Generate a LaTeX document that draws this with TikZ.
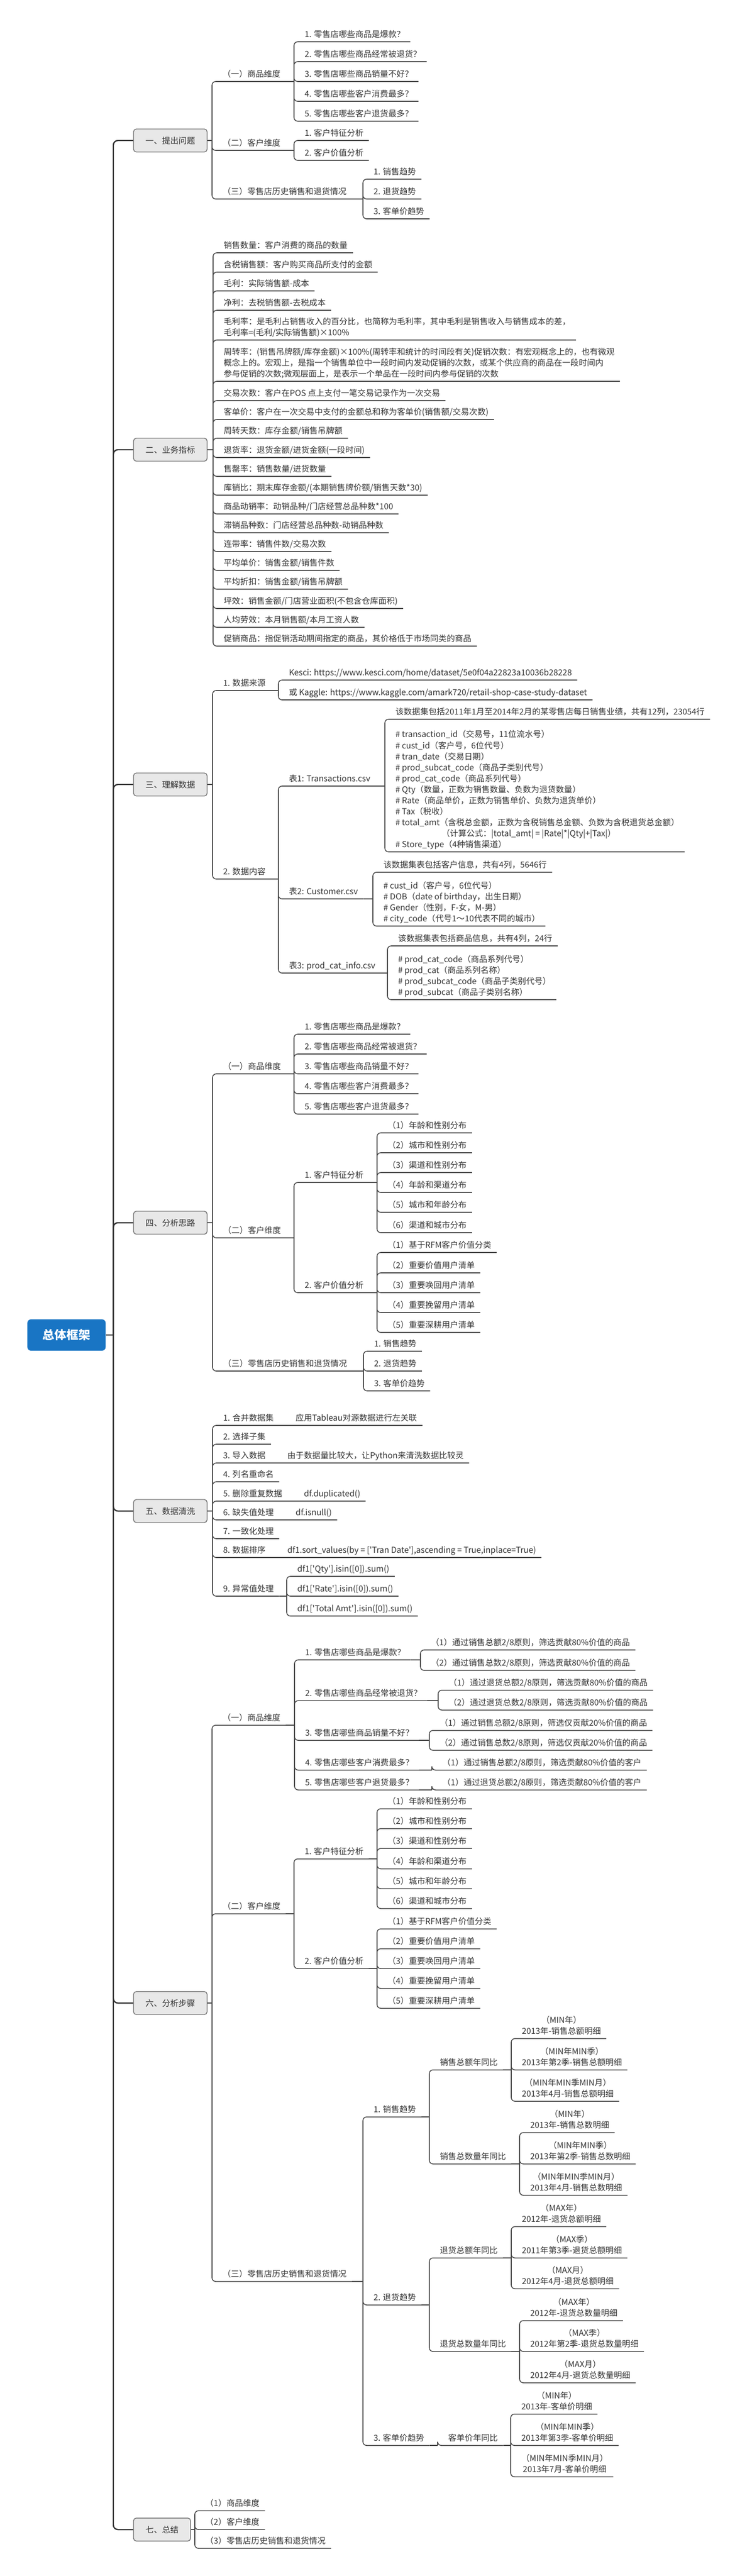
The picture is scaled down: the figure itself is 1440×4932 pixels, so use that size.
\documentclass[tikz,border=0pt]{standalone}
\usepackage{fontspec}
\newfontfamily\cjk{Noto Sans CJK SC}
\definecolor{rootblue}{RGB}{25,117,196}
\definecolor{txt}{RGB}{51,51,51}
\definecolor{lnk}{RGB}{70,70,70}
% leaf: text sitting on its own underline, x is the bracket it hangs from
\newcommand\leaf[5][]{\node[leaf,#1] (#2) at ({#3+10},#4) {#5};}
% kids: bracket from a parent to its children
\newcommand\kids[4][south east]{%
  \coordinate (bx) at (#3,0);
  \draw[link] (#2.#1) -- (#2.#1 -| bx);
  \foreach \k in {#4}{\draw[link,rounded corners=4pt] (#2.#1 -| bx) |- (\k.south east);}}
\begin{document}
\begin{tikzpicture}[x=0.02cm,y=-0.02cm,
    leaf/.style={anchor=south west,inner xsep=0.2cm,inner ysep=3pt,text depth=1.5pt,
      align=left,text=txt,font=\cjk\fontsize{9}{12}\selectfont},
    two/.style={align=center},
    sect/.style={anchor=west,draw=black!55,fill=black!9,rounded corners=3pt,line width=0.8pt,
      minimum height=0.88cm,inner xsep=0.46cm,text=txt,font=\cjk\fontsize{9}{12}\selectfont},
    root/.style={anchor=west,fill=rootblue,rounded corners=4pt,minimum width=3cm,
      minimum height=1.2cm,text=white,font=\cjk\bfseries\fontsize{13}{15}\selectfont},
    link/.style={draw=lnk,line width=0.9pt},
    trunk/.style={draw=black!80,line width=1.4pt,rounded corners=5pt}]
\useasboundingbox (0,0) rectangle (1440,4932);
\node[root] (root) at (52,2556) {总体框架};
\node[sect] (s1) at (255,269) {一、提出问题};
\node[sect] (s2) at (255,861) {二、业务指标};
\node[sect] (s3) at (255,1502) {三、理解数据};
\node[sect] (s4) at (255,2341) {四、分析思路};
\node[sect] (s5) at (255,2893) {五、数据清洗};
\node[sect] (s6) at (255,3835) {六、分析步骤};
\node[sect] (s7) at (255,4843) {七、总结};
\coordinate (tk) at (217,2556);
\draw[trunk] (root.east) -- (tk);
\foreach \s in {s1,s2,s3,s4,s5,s6,s7}
  \draw[trunk] (tk) |- (\s.west);

% 一、提出问题
\leaf{a1}{406}{156}{（一）商品维度}
\leaf{a2}{406}{288}{（二）客户维度}
\leaf{a3}{406}{381}{（三）零售店历史销售和退货情况}
\leaf{a11}{563}{80}{1. 零售店哪些商品是爆款？}
\leaf{a12}{563}{118}{2. 零售店哪些商品经常被退货？}
\leaf{a13}{563}{156}{3. 零售店哪些商品销量不好？}
\leaf{a14}{563}{194}{4. 零售店哪些客户消费最多？}
\leaf{a15}{563}{232}{5. 零售店哪些客户退货最多？}
\leaf{a21}{563}{269}{1. 客户特征分析}
\leaf{a22}{563}{307}{2. 客户价值分析}
\leaf{a31}{695}{343}{1. 销售趋势}
\leaf{a32}{695}{381}{2. 退货趋势}
\leaf{a33}{695}{419}{3. 客单价趋势}
\kids[east]{s1}{406}{a1,a2,a3}
\kids{a1}{563}{a11,a12,a13,a14,a15}
\kids{a2}{563}{a21,a22}
\kids{a3}{695}{a31,a32,a33}

% 二、业务指标
\leaf{b1}{408}{484}{销售数量：客户消费的商品的数量}
\leaf{b2}{408}{521}{含税销售额：客户购买商品所支付的金额}
\leaf{b3}{408}{557}{毛利：实际销售额-成本}
\leaf{b4}{408}{594}{净利：去税销售额-去税成本}
\leaf{b5}{408}{651}{毛利率：是毛利占销售收入的百分比，也简称为毛利率，其中毛利是销售收入与销售成本的差，\\毛利率=(毛利/实际销售额)×100\%}
\leaf{b6}{408}{730}{周转率：(销售吊牌额/库存金额)×100\%(周转率和统计的时间段有关)促销次数：有宏观概念上的，也有微观\\概念上的。宏观上，是指一个销售单位中一段时间内发动促销的次数，或某个供应商的商品在一段时间内\\参与促销的次数;微观层面上，是表示一个单品在一段时间内参与促销的次数}
\leaf{b7}{408}{767}{交易次数：客户在POS 点上支付一笔交易记录作为一次交易}
\leaf{b8}{408}{803}{客单价：客户在一次交易中支付的金额总和称为客单价(销售额/交易次数)}
\leaf{b9}{408}{839}{周转天数：库存金额/销售吊牌额}
\leaf{b10}{408}{876}{退货率：退货金额/进货金额(一段时间)}
\leaf{b11}{408}{912}{售罄率：销售数量/进货数量}
\leaf{b12}{408}{948}{库销比：期末库存金额/(本期销售牌价额/销售天数*30)}
\leaf{b13}{408}{984}{商品动销率：动销品种/门店经营总品种数*100}
\leaf{b14}{408}{1020}{滞销品种数：门店经营总品种数-动销品种数}
\leaf{b15}{408}{1056}{连带率：销售件数/交易次数}
\leaf{b16}{408}{1092}{平均单价：销售金额/销售件数}
\leaf{b17}{408}{1128}{平均折扣：销售金额/销售吊牌额}
\leaf{b18}{408}{1165}{坪效：销售金额/门店营业面积(不包含仓库面积)}
\leaf{b19}{408}{1201}{人均劳效：本月销售额/本月工资人数}
\leaf{b20}{408}{1237}{促销商品：指促销活动期间指定的商品，其价格低于市场同类的商品}
\kids[east]{s2}{408}{b1,b2,b3,b4,b5,b6,b7,b8,b9,b10,b11,b12,b13,b14,b15,b16,b17,b18,b19,b20}

% 三、理解数据
\leaf{c1}{407}{1322}{1. 数据来源}
\leaf{c2}{407}{1683}{2. 数据内容}
\leaf{c11}{533}{1302}{Kesci: https://www.kesci.com/home/dataset/5e0f04a22823a10036b28228}
\leaf{c12}{533}{1340}{或 Kaggle: https://www.kaggle.com/amark720/retail-shop-case-study-dataset}
\leaf{c21}{533}{1505}{表1: Transactions.csv}
\leaf{c22}{533}{1721}{表2: Customer.csv}
\leaf{c23}{533}{1863}{表3: prod\_cat\_info.csv}
\leaf{c211}{737}{1377}{该数据集包括2011年1月至2014年2月的某零售店每日销售业绩，共有12列，23054行}
\leaf{c212}{737}{1631}{\# transaction\_id（交易号，11位流水号）\\\# cust\_id（客户号，6位代号）\\\# tran\_date（交易日期）\\\# prod\_subcat\_code（商品子类别代号）\\\# prod\_cat\_code（商品系列代号）\\\# Qty（数量，正数为销售数量、负数为退货数量）\\\# Rate（商品单价，正数为销售单价、负数为退货单价）\\\# Tax（税收）\\\# total\_amt（含税总金额，正数为含税销售总金额、负数为含税退货总金额）\\\hspace*{5.6em}（计算公式：|total\_amt| = |Rate|*|Qty|+|Tax|）\\\# Store\_type（4种销售渠道）}
\leaf{c221}{714}{1670}{该数据集表包括客户信息，共有4列，5646行}
\leaf{c222}{714}{1773}{\# cust\_id（客户号，6位代号）\\\# DOB（date of birthday，出生日期）\\\# Gender（性别，F-女，M-男）\\\# city\_code（代号1～10代表不同的城市）}
\leaf{c231}{742}{1811}{该数据集表包括商品信息，共有4列，24行}
\leaf{c232}{742}{1914}{\# prod\_cat\_code（商品系列代号）\\\# prod\_cat（商品系列名称）\\\# prod\_subcat\_code（商品子类别代号）\\\# prod\_subcat（商品子类别名称）}
\kids[east]{s3}{407}{c1,c2}
\kids{c1}{533}{c11,c12}
\kids{c2}{533}{c21,c22,c23}
\kids{c21}{737}{c211,c212}
\kids{c22}{714}{c221,c222}
\kids{c23}{742}{c231,c232}

% 四、分析思路
\leaf{d1}{407}{2056}{（一）商品维度}
\leaf{d2}{407}{2370}{（二）客户维度}
\leaf{d3}{407}{2625}{（三）零售店历史销售和退货情况}
\leaf{d11}{563}{1980}{1. 零售店哪些商品是爆款？}
\leaf{d12}{563}{2018}{2. 零售店哪些商品经常被退货？}
\leaf{d13}{563}{2056}{3. 零售店哪些商品销量不好？}
\leaf{d14}{563}{2094}{4. 零售店哪些客户消费最多？}
\leaf{d15}{563}{2133}{5. 零售店哪些客户退货最多？}
\leaf{d21}{563}{2264}{1. 客户特征分析}
\leaf{d22}{563}{2475}{2. 客户价值分析}
\leaf{d211}{722}{2169}{（1）年龄和性别分布}
\leaf{d212}{722}{2207}{（2）城市和性别分布}
\leaf{d213}{722}{2245}{（3）渠道和性别分布}
\leaf{d214}{722}{2283}{（4）年龄和渠道分布}
\leaf{d215}{722}{2321}{（5）城市和年龄分布}
\leaf{d216}{722}{2360}{（6）渠道和城市分布}
\leaf{d221}{722}{2398}{（1）基于RFM客户价值分类}
\leaf{d222}{722}{2437}{（2）重要价值用户清单}
\leaf{d223}{722}{2475}{（3）重要唤回用户清单}
\leaf{d224}{722}{2513}{（4）重要挽留用户清单}
\leaf{d225}{722}{2551}{（5）重要深耕用户清单}
\leaf{d31}{696}{2587}{1. 销售趋势}
\leaf{d32}{696}{2625}{2. 退货趋势}
\leaf{d33}{696}{2663}{3. 客单价趋势}
\kids[east]{s4}{407}{d1,d2,d3}
\kids{d1}{563}{d11,d12,d13,d14,d15}
\kids{d2}{563}{d21,d22}
\kids{d21}{722}{d211,d212,d213,d214,d215,d216}
\kids{d22}{722}{d221,d222,d223,d224,d225}
\kids{d3}{696}{d31,d32,d33}

% 五、数据清洗
\leaf{e1}{407}{2729}{1. 合并数据集\hspace{2.65em}应用Tableau对源数据进行左关联}
\leaf{e2}{407}{2765}{2. 选择子集}
\leaf{e3}{407}{2801}{3. 导入数据\hspace{2.65em}由于数据量比较大，让Python来清洗数据比较灵}
\leaf{e4}{407}{2837}{4. 列名重命名}
\leaf{e5}{407}{2874}{5. 删除重复数据\hspace{2.65em}df.duplicated()}
\leaf{e6}{407}{2910}{6. 缺失值处理\hspace{2.65em}df.isnull()}
\leaf{e7}{407}{2946}{7. 一致化处理}
\leaf{e8}{407}{2982}{8. 数据排序\hspace{2.65em}df1.sort\_values(by = ['Tran Date'],ascending = True,inplace=True)}
\leaf{e9}{407}{3056}{9. 异常值处理}
\leaf{e91}{549}{3018}{df1['Qty'].isin([0]).sum()}
\leaf{e92}{549}{3056}{df1['Rate'].isin([0]).sum()}
\leaf{e93}{549}{3094}{df1['Total Amt'].isin([0]).sum()}
\kids[east]{s5}{407}{e1,e2,e3,e4,e5,e6,e7,e8,e9}
\kids{e9}{549}{e91,e92,e93}

% 六、分析步骤
\leaf{f1}{406}{3303}{（一）商品维度}
\leaf{f2}{406}{3664}{（二）客户维度}
\leaf{f3}{406}{4368}{（三）零售店历史销售和退货情况}
\leaf{f11}{564}{3178}{1. 零售店哪些商品是爆款？}
\leaf{f12}{564}{3256}{2. 零售店哪些商品经常被退货？}
\leaf{f13}{564}{3332}{3. 零售店哪些商品销量不好？}
\leaf{f14}{564}{3389}{4. 零售店哪些客户消费最多？}
\leaf{f15}{564}{3427}{5. 零售店哪些客户退货最多？}
\leaf{f111}{805}{3159}{（1）通过销售总额2/8原则，筛选贡献80\%价值的商品}
\leaf{f112}{805}{3198}{（2）通过销售总数2/8原则，筛选贡献80\%价值的商品}
\leaf{f121}{839}{3236}{（1）通过退货总额2/8原则，筛选贡献80\%价值的商品}
\leaf{f122}{839}{3274}{（2）通过退货总数2/8原则，筛选贡献80\%价值的商品}
\leaf{f131}{822}{3313}{（1）通过销售总额2/8原则，筛选仅贡献20\%价值的商品}
\leaf{f132}{822}{3351}{（2）通过销售总数2/8原则，筛选仅贡献20\%价值的商品}
\leaf{f141}{827}{3389}{（1）通过销售总额2/8原则，筛选贡献80\%价值的客户}
\leaf{f151}{827}{3427}{（1）通过退货总额2/8原则，筛选贡献80\%价值的客户}
\leaf{f21}{563}{3559}{1. 客户特征分析}
\leaf{f22}{563}{3769}{2. 客户价值分析}
\leaf{f211}{722}{3463}{（1）年龄和性别分布}
\leaf{f212}{722}{3501}{（2）城市和性别分布}
\leaf{f213}{722}{3539}{（3）渠道和性别分布}
\leaf{f214}{722}{3578}{（4）年龄和渠道分布}
\leaf{f215}{722}{3616}{（5）城市和年龄分布}
\leaf{f216}{722}{3654}{（6）渠道和城市分布}
\leaf{f221}{722}{3693}{（1）基于RFM客户价值分类}
\leaf{f222}{722}{3731}{（2）重要价值用户清单}
\leaf{f223}{722}{3769}{（3）重要唤回用户清单}
\leaf{f224}{722}{3807}{（4）重要挽留用户清单}
\leaf{f225}{722}{3845}{（5）重要深耕用户清单}
\leaf{f31}{695}{4053}{1. 销售趋势}
\leaf{f32}{695}{4413}{2. 退货趋势}
\leaf{f33}{695}{4682}{3. 客单价趋势}
\leaf{f311}{822}{3963}{销售总额年同比}
\leaf{f312}{822}{4143}{销售总数量年同比}
\leaf{f321}{822}{4323}{退货总额年同比}
\leaf{f322}{822}{4502}{退货总数量年同比}
\leaf{f331}{838}{4682}{客单价年同比}
\leaf[two]{g1}{979}{3903}{（MIN年）\\2013年-销售总额明细}
\leaf[two]{g2}{979}{3963}{（MIN年MIN季）\\2013年第2季-销售总额明细}
\leaf[two]{g3}{979}{4023}{（MIN年MIN季MIN月）\\2013年4月-销售总额明细}
\leaf[two]{g4}{995}{4083}{（MIN年）\\2013年-销售总数明细}
\leaf[two]{g5}{995}{4143}{（MIN年MIN季）\\2013年第2季-销售总数明细}
\leaf[two]{g6}{995}{4203}{（MIN年MIN季MIN月）\\2013年4月-销售总数明细}
\leaf[two]{g7}{979}{4263}{（MAX年）\\2012年-退货总额明细}
\leaf[two]{g8}{979}{4323}{（MAX季）\\2011年第3季-退货总额明细}
\leaf[two]{g9}{979}{4382}{（MAX月）\\2012年4月-退货总额明细}
\leaf[two]{g10}{995}{4443}{（MAX年）\\2012年-退货总数量明细}
\leaf[two]{g11}{995}{4502}{（MAX季）\\2012年第2季-退货总数量明细}
\leaf[two]{g12}{995}{4562}{（MAX月）\\2012年4月-退货总数量明细}
\leaf[two]{g13}{978}{4622}{（MIN年）\\2013年-客单价明细}
\leaf[two]{g14}{978}{4682}{（MIN年MIN季）\\2013年第3季-客单价明细}
\leaf[two]{g15}{978}{4742}{（MIN年MIN季MIN月）\\2013年7月-客单价明细}
\kids[east]{s6}{406}{f1,f2,f3}
\kids{f1}{564}{f11,f12,f13,f14,f15}
\kids{f11}{805}{f111,f112}
\kids{f12}{839}{f121,f122}
\kids{f13}{822}{f131,f132}
\kids{f14}{827}{f141}
\kids{f15}{827}{f151}
\kids{f2}{563}{f21,f22}
\kids{f21}{722}{f211,f212,f213,f214,f215,f216}
\kids{f22}{722}{f221,f222,f223,f224,f225}
\kids{f3}{695}{f31,f32,f33}
\kids{f31}{822}{f311,f312}
\kids{f32}{822}{f321,f322}
\kids{f33}{838}{f331}
\kids{f311}{979}{g1,g2,g3}
\kids{f312}{995}{g4,g5,g6}
\kids{f321}{979}{g7,g8,g9}
\kids{f322}{995}{g10,g11,g12}
\kids{f331}{978}{g13,g14,g15}

% 七、总结
\leaf{h1}{373}{4807}{（1）商品维度}
\leaf{h2}{373}{4843}{（2）客户维度}
\leaf{h3}{373}{4879}{（3）零售店历史销售和退货情况}
\kids[east]{s7}{373}{h1,h2,h3}
\end{tikzpicture}
\end{document}
